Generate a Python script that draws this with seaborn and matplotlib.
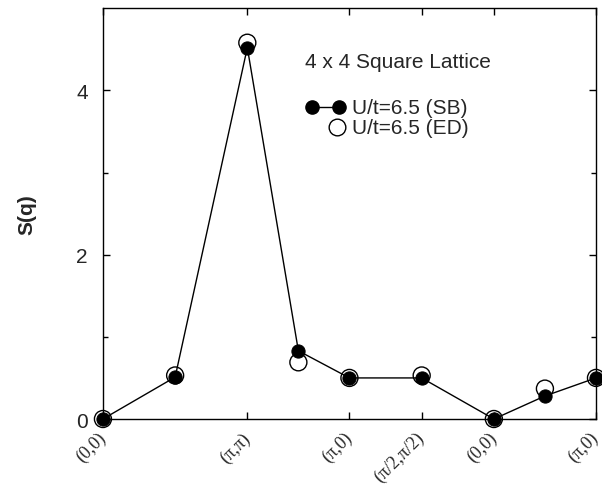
import pandas as pd
import seaborn as sns
import matplotlib.pyplot as plt

# path length along (0,0)->(pi,pi)->(pi,0)->(pi/2,pi/2)->(0,0)->(pi,0), units of pi/2
path = [0.0, 1.414, 2.828, 3.828, 4.828, 6.243, 7.657, 8.657, 9.657]
sb = [0.0, 0.51, 4.52, 0.83, 0.50, 0.50, 0.0, 0.28, 0.50]
ed = [0.0, 0.53, 4.58, 0.69, 0.50, 0.53, 0.0, 0.37, 0.50]
tick_pos = [0.0, 2.828, 4.828, 6.243, 7.657, 9.657]
tick_labels = ["(0,0)", "(π,π)", "(π,0)", "(π/2,π/2)", "(0,0)", "(π,0)"]

df = pd.DataFrame({"q": path, "SB": sb, "ED": ed})

sns.set_style("ticks")
plt.rcParams["font.family"] = ["Liberation Sans", "DejaVu Sans"]

fig = plt.figure(figsize=(6.02, 4.85), dpi=100)
ax = fig.add_axes([0.171, 0.134, 0.819, 0.847])

sns.scatterplot(data=df, x="q", y="ED", ax=ax, marker="o", s=150,
                facecolor="none", edgecolor="black", linewidth=1,
                zorder=2, clip_on=False)
sns.lineplot(data=df, x="q", y="SB", ax=ax, color="black", lw=1,
             marker="o", markersize=9.5, markeredgecolor="black",
             zorder=3, clip_on=False)

ax.set_xlim(0, path[-1])
ax.set_ylim(0, 5)
ax.set_yticks([0, 2, 4])
ax.set_yticks([1, 3], minor=True)
ax.set_xticks(tick_pos)
ax.set_xticklabels(tick_labels, rotation=45, ha="right", va="center",
                   rotation_mode="anchor", fontfamily="Liberation Serif",
                   fontsize=13)
ax.tick_params(axis="both", which="both", direction="in", top=True,
               right=True, color="black", width=1)
ax.tick_params(axis="both", which="major", length=5)
ax.tick_params(axis="y", which="minor", length=3.5)
ax.tick_params(axis="y", labelsize=15, pad=11)
ax.tick_params(axis="x", pad=11.5)
for sp in ax.spines.values():
    sp.set_color("black")
    sp.set_linewidth(1)

ax.set_xlabel("")
ax.set_ylabel("S(q)", fontsize=15, fontweight="bold")
ax.yaxis.set_label_coords(-0.134, 0.5)

# legend drawn in axes coordinates
ax.text(0.410, 0.871, "4 x 4 Square Lattice", transform=ax.transAxes,
        fontsize=15, va="center", ha="left")
ax.plot([0.424, 0.479], [0.759, 0.759], transform=ax.transAxes,
        color="black", lw=1, marker="o", markersize=9.5, clip_on=False)
ax.text(0.505, 0.759, "U/t=6.5 (SB)", transform=ax.transAxes,
        fontsize=15, va="center", ha="left")
ax.plot([0.475], [0.710], transform=ax.transAxes, linestyle="none",
        marker="o", markersize=12, markerfacecolor="none",
        markeredgecolor="black", markeredgewidth=1, clip_on=False)
ax.text(0.505, 0.710, "U/t=6.5 (ED)", transform=ax.transAxes,
        fontsize=15, va="center", ha="left")

fig.savefig("out.png", dpi=100)
